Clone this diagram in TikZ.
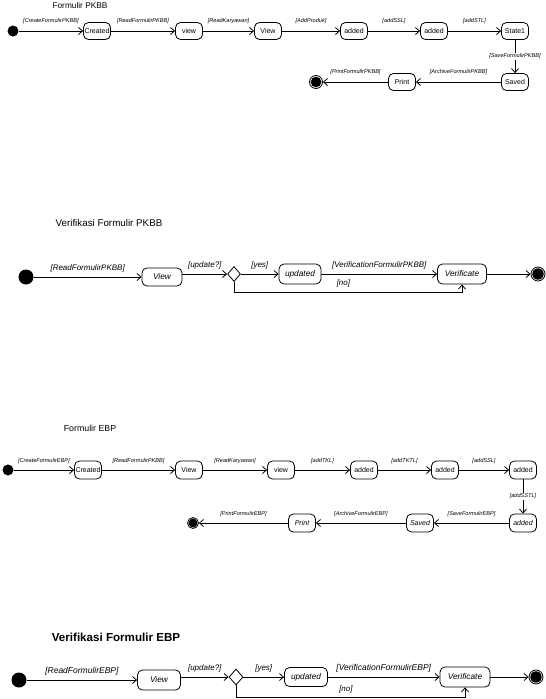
\documentclass[tikz,border=0pt]{standalone}
\usepackage{fontspec}
\setmainfont{Liberation Sans}
\usetikzlibrary{arrows.meta,shapes.geometric}
\tikzset{
  tr/.style={line width=0.8pt,-{Straight Barb[length=4pt,width=7pt]}},
  st/.style={draw,line width=0.8pt,rounded corners=5pt,inner sep=1pt,minimum height=17pt,minimum width=27pt},
  ini/.style={circle,fill,inner sep=0pt,minimum size=#1},
  fin/.style={circle,draw,line width=0.8pt,inner sep=0pt,minimum size=#1,
    path picture={\fill (path picture bounding box.center) circle (0.41*#1);}},
  dec/.style={diamond,draw,line width=0.8pt,inner sep=0pt,minimum width=13pt,minimum height=15pt},
  lbs/.style={font=\fontsize{5.6}{6}\selectfont\itshape,inner sep=0pt},
  lbm/.style={font=\fontsize{8}{9}\selectfont\itshape,inner sep=0pt},
  sts/.style={font=\fontsize{7}{8}\selectfont},
  stm/.style={font=\fontsize{8.3}{9}\selectfont\itshape,minimum height=20pt},
  ttl/.style={font=\fontsize{8.3}{9}\selectfont},
}
\begin{document}
\begin{tikzpicture}[x=1pt,y=-1pt]
\useasboundingbox (0,0) rectangle (546,699);
% FORMULIR PKBB
\node[ttl] (t1) at (80,6) {Formulir PKBB};
\node[ini=11pt] (i1) at (13,31) {};
\foreach \n/\x/\t in {a1/97/Created,a2/189/view,a3/268/View,a4/354/added,a5/434/added,a6/515/State1}{
  \node[st,sts] (\n) at (\x,31) {\t};
}
\node[st,sts] (b1) at (515,82) {Saved};
\node[st,sts] (b2) at (402,82) {Print};
\node[fin=13pt] (f1) at (316,82) {};
\foreach \u/\v/\l in {i1/a1/CreateFormulirPKBB,a1/a2/ReadFormulirPKBB,a2/a3/ReadKaryawan,
    a3/a4/AddProduk,a4/a5/addSSL,a5/a6/addSTL,b1/b2/ArchiveFormulirPKBB,b2/f1/PrintFormulirPKBB}{
  \draw[tr] (\u) -- node[lbs,above=7pt]{[\l]} (\v);
}
\draw[tr] (a6) -- node[lbs,fill=white,inner sep=1pt]{[SaveFormulirPKBB]} (b1);
% VERIFIKASI FORMULIR PKBB
\node[ttl,font=\fontsize{9.8}{11}\selectfont] (t2) at (109,223) {Verifikasi Formulir PKBB};
\node[ini=15pt] (i2) at (26,277) {};
\node[st,stm,minimum width=40pt,minimum height=18pt] (v2) at (162,277) {View};
\node[dec] (d2) at (234,274) {};
\node[st,stm,minimum width=42pt] (u2) at (300,274) {updated};
\node[st,stm,minimum width=49pt] (w2) at (462,274) {Verificate};
\node[fin=14pt] (f2) at (538,274) {};
\draw[tr] (i2) -- node[lbm,above=4pt]{[ReadFormulirPKBB]} (v2);
\draw[tr] (v2.east |- d2) -- node[lbm,above=4pt]{[update?]} (d2);
\draw[tr] (d2) -- node[lbm,above=4pt]{[yes]} (u2);
\draw[tr] (u2) -- node[lbm,above=4pt]{[VerificationFormulirPKBB]} (w2);
\draw[tr] (w2) -- (f2);
\draw[tr] (d2.south) -- ++(0,10) -| node[lbm,pos=0.24,above=4pt]{[no]} (w2.south);
% FORMULIR EBP
\node[ttl,font=\fontsize{8.8}{10}\selectfont] (t3) at (90,428) {Formulir EBP};
\node[ini=11pt] (i3) at (8,470) {};
\foreach \n/\x/\t in {c1/88/Created,c2/189/View,c3/281/view,c4/364/added,c5/445/added,c6/523/added}{
  \node[st,sts,minimum height=18pt] (\n) at (\x,470) {\t};
}
\node[st,sts,minimum height=18pt,font=\fontsize{7}{8}\selectfont\itshape] (c7) at (523,523) {added};
\node[st,sts,minimum height=18pt,font=\fontsize{7}{8}\selectfont\itshape] (c8) at (420,523) {Saved};
\node[st,sts,minimum height=18pt,font=\fontsize{7}{8}\selectfont\itshape] (c9) at (302,523) {Print};
\node[fin=11pt] (f3) at (193,523) {};
\foreach \u/\v/\l in {i3/c1/CreateFormulirEBP,c1/c2/ReadFormulirPKBB,c2/c3/ReadKaryawan,
    c3/c4/addTKL,c4/c5/addTKTL,c5/c6/addSSL,c7/c8/SaveFormulirEBP,c8/c9/ArchiveFormulirEBP,c9/f3/PrintFormulirEBP}{
  \draw[tr] (\u) -- node[lbs,above=6pt]{[\l]} (\v);
}
\draw[tr] (c6) -- node[lbs,fill=white,inner sep=1pt]{[addSSTL]} (c7);
% VERIFIKASI FORMULIR EBP
\node[ttl,font=\fontsize{11.6}{13}\selectfont\bfseries] (t4) at (116,637) {Verifikasi Formulir EBP};
\node[ini=15pt] (i4) at (19,680) {};
\node[st,stm,minimum width=43pt] (v4) at (159,680) {View};
\node[dec,minimum width=14pt,minimum height=16pt] (d4) at (236,677) {};
\node[st,stm,minimum width=43pt,minimum height=19pt] (u4) at (306,677) {updated};
\node[st,stm,minimum width=50pt] (w4) at (465,677) {Verificate};
\node[fin=14pt] (f4) at (536,677) {};
\draw[tr] (i4) -- node[lbm,above=4pt,font=\fontsize{8.5}{9}\selectfont\itshape]{[ReadFormulirEBP]} (v4);
\draw[tr] (v4.east |- d4) -- node[lbm,above=4pt]{[update?]} (d4);
\draw[tr] (d4) -- node[lbm,above=4pt]{[yes]} (u4);
\draw[tr] (u4) -- node[lbm,above=4pt,font=\fontsize{8.5}{9}\selectfont\itshape]{[VerificationFormulirEBP]} (w4);
\draw[tr] (w4) -- (f4);
\draw[tr] (d4.south) -- ++(0,12) -| node[lbm,pos=0.24,above=4pt]{[no]} (w4.south);
\end{tikzpicture}
\end{document}
